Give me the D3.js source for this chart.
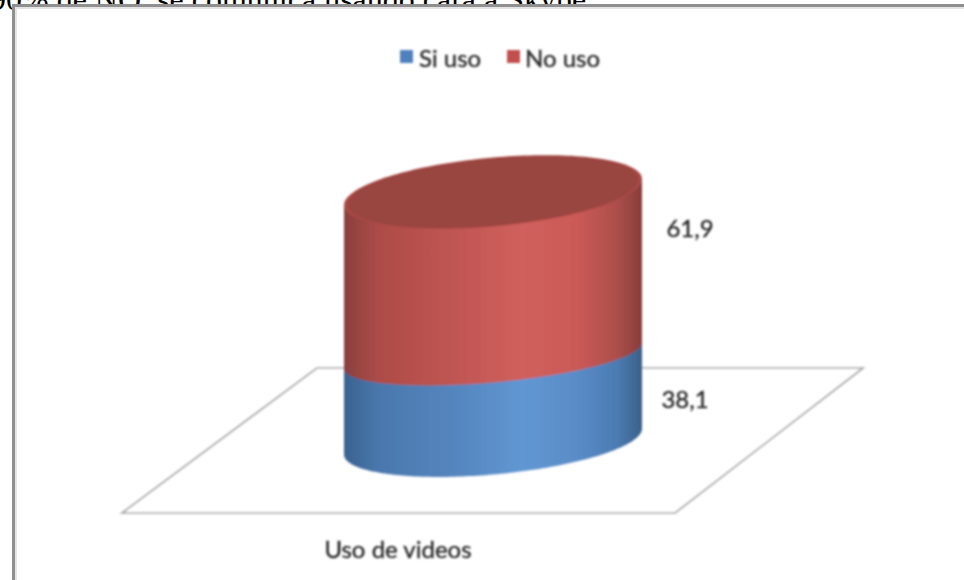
<!DOCTYPE html>
<html>
<head>
<meta charset="utf-8">
<script src="https://cdn.jsdelivr.net/npm/d3@7"></script>
<style>html,body{margin:0;padding:0;background:#fff;overflow:hidden}svg{display:block}</style>
</head>
<body>
<div id="chart"></div>
<script>
const categories = ["Uso de videos"];
const seriesNames = ["Si uso", "No uso"];
const siUso = [38.1];
const noUso = [61.9];
const seriesColors = ["#4f81bd", "#c0504d"];
const labelText = ["38,1", "61,9"];
const caption = "90% de NO, se comunica usando cara a Skype";

const W = 964, H = 580;
const svg = d3.select("#chart").append("svg").attr("width", W).attr("height", H);
const defs = svg.append("defs");
defs.append("filter").attr("id", "soft").attr("x", "-5%").attr("y", "-5%").attr("width", "110%").attr("height", "110%")
  .append("feGaussianBlur").attr("stdDeviation", 1.3);
defs.append("filter").attr("id", "softText").attr("x", "-10%").attr("y", "-30%").attr("width", "120%").attr("height", "160%")
  .append("feGaussianBlur").attr("stdDeviation", 0.8);

const gradStops = {
  "Si uso": ["#3a6290", "#4a78ad", "#5787c0", "#6097d3", "#5a8cc6", "#4a7bb2", "#3a6088"],
  "No uso": ["#8a403d", "#ae4c48", "#c25754", "#d0605c", "#cb5a57", "#ab4e4a", "#873d3a"]
};
const stopOffsets = [0, .12, .4, .6, .78, .92, 1];
seriesNames.forEach((s, i) => {
  const g = defs.append("linearGradient").attr("id", "g" + i).attr("x1", 0).attr("x2", 1).attr("y1", 0).attr("y2", 0);
  gradStops[s].forEach((c, k) => g.append("stop").attr("offset", stopOffsets[k]).attr("stop-color", c));
});

// caption clipped by the chart picture
svg.append("text").attr("x", -10).attr("y", 10)
  .attr("font-family", "Liberation Serif").attr("font-size", 32).attr("fill", "#000").text(caption);

// frame
svg.append("rect").attr("x", 12).attr("y", 4).attr("width", W).attr("height", H).attr("fill", "#fff");
svg.append("path").attr("d", `M13.5,${H}V5.5H${W}`).attr("fill", "none").attr("stroke", "#8f8f8f").attr("stroke-width", 3);
svg.append("path").attr("d", `M16,${H}V8H${W}`).attr("fill", "none").attr("stroke", "#e4e4e4").attr("stroke-width", 2);

// floor
const floor = d3.line()([[317, 368], [863, 368], [675, 513], [122, 513]]) + "Z";
svg.append("path").attr("d", floor).attr("fill", "#fff").attr("stroke", "#a6a6a6").attr("stroke-width", 1.7).attr("filter", "url(#softText)");

// scales
const x = d3.scaleBand().domain(categories).range([344, 642]).padding(0);
const y = d3.scaleLinear().domain([0, 38.1, 100]).range([441.5, 355.5, 192]);
const ry = d3.scaleLinear().domain([0, 38.1, 100]).range([33, 27, 34.5]);
const shear = -0.087;

const rows = categories.map((c, i) => ({ category: c, "Si uso": siUso[i], "No uso": noUso[i] }));
const stack = d3.stack().keys(seriesNames)(rows);

const A = x.bandwidth() / 2, cx = x(categories[0]) + A;
const pt = (level, t, k = 1) => [
  cx + k * A * Math.cos(t),
  y(level) + shear * k * A * Math.cos(t) + k * ry(level) * Math.sin(t)
];
const ts = d3.range(0, 121).map(i => Math.PI - i * Math.PI / 120); // left to right along the front
const line = d3.line();

const body = svg.append("g").attr("filter", "url(#soft)");
stack.forEach((ser, i) => {
  const [lo, hi] = ser[0];
  const pts = [pt(hi, Math.PI), ...ts.map(t => pt(lo, t)), pt(hi, 0)];
  body.append("path").attr("d", line(pts) + "Z").attr("fill", `url(#g${i})`);
});
// lid
const topV = stack[stack.length - 1][0][1];
const allT = d3.range(0, 181).map(i => i * 2 * Math.PI / 180);
body.append("path").attr("d", line(allT.map(t => pt(topV, t))) + "Z").attr("fill", "#a94a46");
body.append("path").attr("d", line(allT.map(t => pt(topV, t, 0.975))) + "Z").attr("fill", "#994541");

// value labels
const font = "Lato";
const labelPos = [[685, 398], [690, 227]];
const textStyle = sel => sel.attr("font-family", font).attr("stroke", "#2a2a2a").attr("stroke-width", 0.35)
  .attr("fill", "#2a2a2a");
svg.append("g").attr("filter", "url(#softText)").selectAll("text").data(labelText).join("text")
  .attr("x", (d, i) => labelPos[i][0]).attr("y", (d, i) => labelPos[i][1])
  .attr("text-anchor", "middle").attr("dominant-baseline", "central")
  .attr("font-size", 24).call(textStyle).text(d => d);

// category label
svg.append("text").attr("filter", "url(#softText)").attr("x", 398).attr("y", 548)
  .attr("text-anchor", "middle").attr("dominant-baseline", "central")
  .attr("font-size", 24).call(textStyle).text(categories[0]);

// legend
const legendX = [400, 507], legendTextX = [419, 525];
const legend = svg.append("g").attr("filter", "url(#softText)");
seriesNames.forEach((s, i) => {
  legend.append("rect").attr("x", legendX[i]).attr("y", 50).attr("width", 13).attr("height", 13).attr("fill", seriesColors[i]);
  legend.append("text").attr("x", legendTextX[i]).attr("y", 57).attr("dominant-baseline", "central")
    .attr("font-size", 24).call(textStyle).text(s);
});
</script>
</body>
</html>
